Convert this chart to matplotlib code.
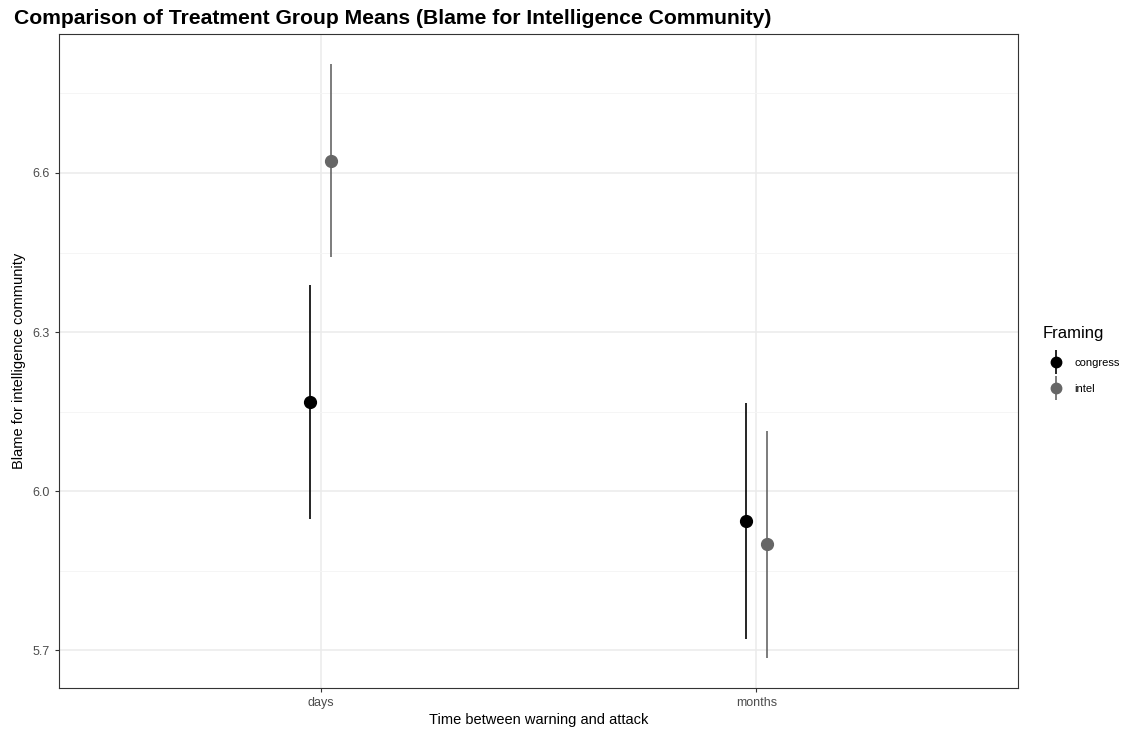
import matplotlib
matplotlib.use("Agg")
import matplotlib.pyplot as plt
from matplotlib.lines import Line2D
from matplotlib.legend_handler import HandlerTuple
import numpy as np

plt.rcParams['font.family'] = ['Liberation Sans', 'DejaVu Sans']

# Group means and interval bounds by timing and framing
timing = ["days", "months"]
framing = ["congress", "intel"]
means = {"congress": [6.168, 5.943], "intel": [6.623, 5.900]}
lower = {"congress": [5.947, 5.721], "intel": [6.442, 5.685]}
upper = {"congress": [6.389, 6.166], "intel": [6.806, 6.113]}
colors = {"congress": "#000000", "intel": "#666666"}
yticks = [5.7, 6.0, 6.3, 6.6]

fig = plt.figure(figsize=(11.32, 7.30), dpi=100)
ax = fig.add_axes([59/1132, 1 - 688/730, (1018-59)/1132, (688-34)/730])

dodge = {"congress": -0.025, "intel": 0.025}
x = np.arange(len(timing))
handles = []
for f in framing:
    m = np.array(means[f])
    lo = np.array(lower[f])
    hi = np.array(upper[f])
    ax.errorbar(x + dodge[f], m, yerr=[m - lo, hi - m], fmt='o',
                color=colors[f], ecolor=colors[f], elinewidth=1.2,
                markersize=8.5, capsize=0, zorder=3)
    bar = Line2D([], [], marker='|', markersize=17, markeredgewidth=1.2,
                 linestyle='None', color=colors[f])
    dot = Line2D([], [], marker='o', markersize=7.5, linestyle='None',
                 color=colors[f])
    handles.append((bar, dot))

allv = np.concatenate([lower[f] for f in framing] + [upper[f] for f in framing])
rng = allv.max() - allv.min()
ax.set_ylim(allv.min() - 0.05 * rng, allv.max() + 0.05 * rng)
ax.set_xlim(-0.6, 1.6)

ax.set_xticks(x)
ax.set_xticklabels(timing)
ax.set_yticks(yticks)
ax.set_yticklabels([f"{v:.1f}" for v in yticks])
ax.set_yticks([5.85, 6.15, 6.45, 6.75], minor=True)
ax.set_xticks([], minor=True)

ax.grid(True, which='major', color='#ebebeb', linewidth=1.1, zorder=0)
ax.grid(True, which='minor', axis='y', color='#f4f4f4', linewidth=0.6, zorder=0)
ax.set_axisbelow(True)
for s in ax.spines.values():
    s.set_color('#333333')
    s.set_linewidth(0.8)

ax.tick_params(axis='both', which='major', colors='#333333', labelcolor='#4d4d4d',
               labelsize=9, length=3, width=0.8)
ax.tick_params(axis='y', which='minor', length=0)

ax.set_xlabel("Time between warning and attack", fontsize=10.5, color='black', labelpad=3)
ax.set_ylabel("Blame for intelligence community", fontsize=10.5, color='black', labelpad=5)

fig.text(14/1132, 1 - 19/730, "Comparison of Treatment Group Means (Blame for Intelligence Community)",
         fontsize=15.2, fontweight='bold', va='center', ha='left')

leg = fig.legend(handles=handles, labels=framing, title="Framing",
                 handler_map={tuple: HandlerTuple(ndivide=1)},
                 loc='upper left', bbox_to_anchor=(1033/1132, 1 - 316/730),
                 frameon=False, fontsize=8, title_fontsize=12,
                 handlelength=2.3, handletextpad=0.55, labelspacing=1.5,
                 alignment='left')

fig.savefig("out.png", dpi=100, facecolor='white')
